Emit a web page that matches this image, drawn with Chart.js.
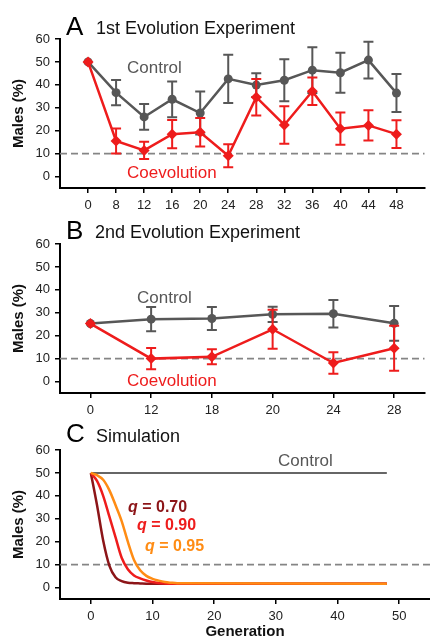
<!DOCTYPE html>
<html><head><meta charset="utf-8">
<script src="https://cdn.jsdelivr.net/npm/chart.js@4.4.1/dist/chart.umd.min.js"></script>
<style>
html,body{margin:0;padding:0;background:#fff;}
body{width:430px;height:641px;overflow:hidden;position:relative;}
canvas{position:absolute;left:0;}
</style></head><body>
<canvas id="cA" width="430" height="215" style="top:0px"></canvas>
<canvas id="cB" width="430" height="205" style="top:215px"></canvas>
<canvas id="cC" width="430" height="221" style="top:420px"></canvas>
<script>
// ---------- DATA ----------
const yTicks = [0, 10, 20, 30, 40, 50, 60];
const threshold = 10;

// Panel A: 1st evolution experiment
const genA = ['0','8','12','16','20','24','28','32','36','40','44','48'];
const ctrlA = [50, 36.6, 26.0, 33.7, 27.7, 42.6, 39.9, 42.0, 46.4, 45.3, 50.8, 36.4];
const ctrlAErr = [0, 5.5, 5.6, 7.8, 9.4, 10.5, 5.2, 9.2, 10.0, 8.7, 8.0, 8.3];
const coevA = [50, 15.5, 11.4, 18.5, 19.3, 9.1, 34.6, 22.5, 37.2, 20.9, 22.3, 18.5];
const coevAErr = [0, 5.5, 3.8, 6.2, 6.2, 5.0, 8.0, 8.2, 6.0, 7.0, 6.6, 6.1];

// Panel B: 2nd evolution experiment
const genB = ['0','12','18','20','24','28'];
const ctrlB = [25.3, 27.2, 27.5, 29.3, 29.6, 25.4];
const ctrlBErr = [0, 5.3, 5.0, 3.3, 6.0, 7.6];
const coevB = [25.3, 10.0, 10.8, 22.8, 8.1, 14.5];
const coevBErr = [0, 4.6, 3.3, 8.5, 4.7, 9.8];

// Panel C: simulation
const xTicksC = [0, 10, 20, 30, 40, 50];
const simGen = [0,1,2,3,4,5,6,7,8,9,10,11,12,13,14,48];
const q70 = [50, 36, 20.5, 9.6, 4.5, 2.8, 2.1, 1.9, 1.8, 1.7, 1.7, 1.7, 1.7, 1.7, 1.7, 1.7];
const q90 = [50, 46.5, 40, 31, 22, 13, 8, 5.3, 4.0, 3.1, 2.4, 2.0, 1.8, 1.7, 1.7, 1.7];
const q95 = [50, 49, 47, 42.5, 36, 29, 20, 12, 7.5, 5.1, 3.8, 3.0, 2.4, 2.1, 1.9, 1.7];
const ctrlGenC = [0, 48];
const ctrlC = [50, 50];

// ---------- STYLE ----------
const FONT = '"Liberation Sans", Arial, Helvetica, sans-serif';
const GRAY = '#575757';
const RED = '#ee1c1c';
const DARKRED = '#8c1518';
const ORANGE = '#ff8c14';

const overlay = {
  id: 'overlay',
  beforeDatasetsDraw(chart, args, opts) {
    const ctx = chart.ctx, a = chart.chartArea, y = chart.scales.y.getPixelForValue(opts.threshold);
    ctx.save();
    ctx.strokeStyle = '#858585';
    ctx.lineWidth = 1.6;
    ctx.setLineDash([7, 4]);
    ctx.beginPath();
    ctx.moveTo(a.left, y);
    ctx.lineTo(a.right, y);
    ctx.stroke();
    ctx.restore();
  },
  afterDatasetDraw(chart, args) {
    const ds = chart.data.datasets[args.index];
    if (!ds.errors) return;
    const ctx = chart.ctx, ys = chart.scales.y, meta = args.meta;
    ctx.save();
    ctx.strokeStyle = ds.borderColor;
    ctx.lineWidth = 2;
    ds.errors.forEach((e, i) => {
      if (!e) return;
      const v = ds.data[i].y, x = meta.data[i].x;
      const yt = ys.getPixelForValue(v + e), yb = ys.getPixelForValue(v - e);
      ctx.beginPath();
      ctx.moveTo(x, yt); ctx.lineTo(x, yb);
      ctx.moveTo(x - 5, yt); ctx.lineTo(x + 5, yt);
      ctx.moveTo(x - 5, yb); ctx.lineTo(x + 5, yb);
      ctx.stroke();
    });
    ctx.restore();
  },
  afterDraw(chart, args, opts) {
    const ctx = chart.ctx;
    ctx.save();
    ctx.textBaseline = 'alphabetic';
    ctx.textAlign = 'left';
    (opts.texts || []).forEach(t => {
      let x = t.x;
      t.parts.forEach(p => {
        ctx.font = p.f;
        ctx.fillStyle = t.color;
        ctx.fillText(p.t, x, t.y);
        x += ctx.measureText(p.t).width;
      });
    });
    ctx.restore();
  }
};

function yScale() {
  return {
    type: 'linear', min: -5, max: 60,
    afterBuildTicks: s => { s.ticks = yTicks.map(v => ({ value: v })); },
    afterFit: s => { s.width = 60; },
    ticks: { color: '#222', font: { family: FONT, size: 13 }, padding: 5 },
    grid: { drawOnChartArea: false, drawTicks: true, tickLength: 5, color: '#000', lineWidth: 1.5 },
    border: { display: true, color: '#000', width: 2 },
    title: { display: true, text: 'Males (%)', color: '#111', font: { family: FONT, size: 15, weight: 'bold' }, padding: { top: 10, bottom: 0 } }
  };
}
function xScale(min, max, tickVals, labelFn, h, title) {
  const o = {
    type: 'linear', min: min, max: max,
    afterBuildTicks: s => { s.ticks = tickVals.map(v => ({ value: v })); },
    afterFit: s => { s.height = h; },
    ticks: { color: '#222', font: { family: FONT, size: 13 }, padding: 5, autoSkip: false, maxRotation: 0, callback: labelFn },
    grid: { drawOnChartArea: false, drawTicks: true, tickLength: 5, color: '#000', lineWidth: 1.5 },
    border: { display: true, color: '#000', width: 2 }
  };
  if (title) o.title = { display: true, text: title, color: '#111', font: { family: FONT, size: 15, weight: 'bold' }, padding: { top: 0, bottom: 0 } };
  return o;
}
const TITLE_LETTER = '26px ' + FONT;
const TITLE_TEXT = '18px ' + FONT;
const LABEL = '17px ' + FONT;
function pts(xs, ys) { return ys.map((v, i) => ({ x: xs[i], y: v })); }
const idxA = genA.map((g, i) => i), idxB = genB.map((g, i) => i);

function expDataset(label, vals, errs, idx, color, style, r) {
  return {
    label, data: pts(idx, vals), errors: errs,
    borderColor: color, backgroundColor: color, borderWidth: 2.5,
    pointStyle: style, pointRadius: r, pointBorderWidth: 0, tension: 0
  };
}
function baseOptions(padTop, scales, texts) {
  return {
    responsive: false, animation: false, devicePixelRatio: 1,
    layout: { padding: { top: padTop, left: 0, right: 0, bottom: 0 } },
    scales,
    plugins: { legend: { display: false }, tooltip: { enabled: false }, overlay: { threshold, texts } }
  };
}

// ---------- Panel A ----------
new Chart(document.getElementById('cA'), {
  type: 'line',
  data: { datasets: [
    expDataset('Coevolution', coevA, coevAErr, idxA, RED, 'rectRot', 5.5),
    expDataset('Control', ctrlA, ctrlAErr, idxA, GRAY, 'circle', 4.5)
  ]},
  options: baseOptions(39, {
    x: xScale(-1, genA.length, idxA, (v) => genA[v], 27),
    y: yScale()
  }, [
    { x: 66, y: 35, color: '#000', parts: [{ t: 'A', f: TITLE_LETTER }] },
    { x: 96, y: 34, color: '#111', parts: [{ t: '1st Evolution Experiment', f: TITLE_TEXT }] },
    { x: 127, y: 73, color: GRAY, parts: [{ t: 'Control', f: LABEL }] },
    { x: 127, y: 178, color: RED, parts: [{ t: 'Coevolution', f: LABEL }] }
  ]),
  plugins: [overlay]
});

// ---------- Panel B ----------
new Chart(document.getElementById('cB'), {
  type: 'line',
  data: { datasets: [
    expDataset('Coevolution', coevB, coevBErr, idxB, RED, 'rectRot', 5.5),
    expDataset('Control', ctrlB, ctrlBErr, idxB, GRAY, 'circle', 4.5)
  ]},
  options: baseOptions(29, {
    x: xScale(-0.5, genB.length - 0.5, idxB, (v) => genB[v], 27),
    y: yScale()
  }, [
    { x: 66, y: 24, color: '#000', parts: [{ t: 'B', f: TITLE_LETTER }] },
    { x: 95, y: 23, color: '#111', parts: [{ t: '2nd Evolution Experiment', f: TITLE_TEXT }] },
    { x: 137, y: 88, color: GRAY, parts: [{ t: 'Control', f: LABEL }] },
    { x: 127, y: 171, color: RED, parts: [{ t: 'Coevolution', f: LABEL }] }
  ]),
  plugins: [overlay]
});

// ---------- Panel C ----------
function simDataset(label, xs, vals, color, w) {
  return { label, data: pts(xs, vals), borderColor: color, backgroundColor: color, borderWidth: w,
           pointRadius: 0, cubicInterpolationMode: 'monotone' };
}
const QF = 'bold 16px ' + FONT, QI = 'italic bold 16px ' + FONT;
new Chart(document.getElementById('cC'), {
  type: 'line',
  data: { datasets: [
    simDataset('q = 0.95', simGen, q95, ORANGE, 2.5),
    simDataset('q = 0.90', simGen, q90, RED, 2.5),
    simDataset('q = 0.70', simGen, q70, DARKRED, 2.5),
    simDataset('Control', ctrlGenC, ctrlC, '#666666', 2)
  ]},
  options: baseOptions(30, {
    x: xScale(-5, 55, xTicksC, (v) => String(v), 42, 'Generation'),
    y: yScale()
  }, [
    { x: 66, y: 22, color: '#000', parts: [{ t: 'C', f: TITLE_LETTER }] },
    { x: 96, y: 22, color: '#111', parts: [{ t: 'Simulation', f: TITLE_TEXT }] },
    { x: 278, y: 46, color: GRAY, parts: [{ t: 'Control', f: LABEL }] },
    { x: 128, y: 92, color: DARKRED, parts: [{ t: 'q', f: QI }, { t: ' = 0.70', f: QF }] },
    { x: 137, y: 110, color: RED, parts: [{ t: 'q', f: QI }, { t: ' = 0.90', f: QF }] },
    { x: 145, y: 131, color: ORANGE, parts: [{ t: 'q', f: QI }, { t: ' = 0.95', f: QF }] }
  ]),
  plugins: [overlay]
});
</script>
</body></html>
